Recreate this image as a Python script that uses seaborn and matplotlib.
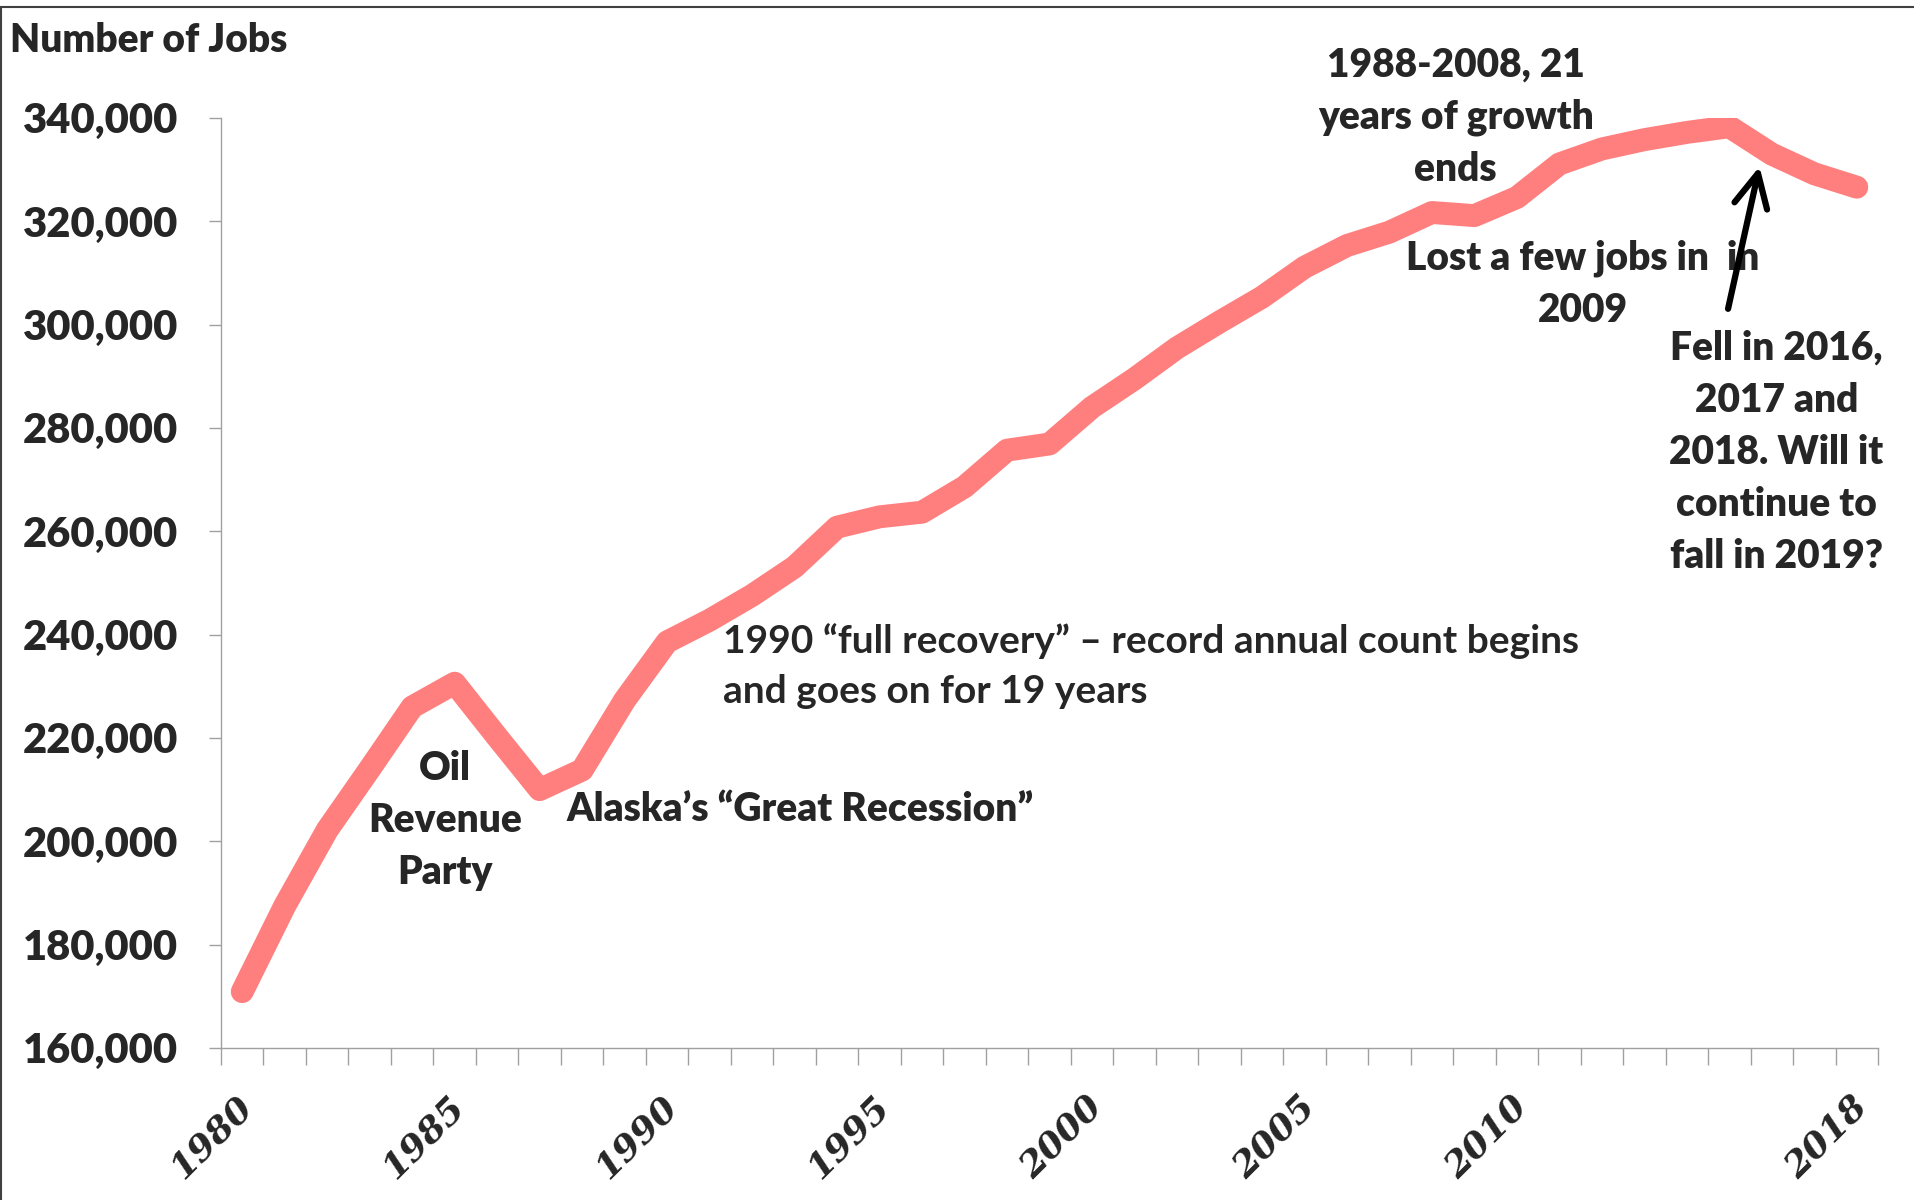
import numpy as np
import matplotlib
matplotlib.use("Agg")
import matplotlib.pyplot as plt
import seaborn as sns
from matplotlib import font_manager as fm
from matplotlib.ticker import FixedLocator
from matplotlib.patches import Rectangle
from matplotlib.transforms import ScaledTranslation

# data (Alaska wage & salary jobs)
years = list(range(1980, 2019))
jobs = [170900, 187500, 202200, 214000, 226000, 230600, 220200, 210000, 213800, 227300,
        238600, 242800, 247600, 253100, 260800, 262800, 263700, 268600, 275700, 276900,
        284000, 289500, 295500, 300500, 305300, 311100, 315300, 317900, 321700, 321100,
        324600, 331100, 334000, 335800, 337200, 338300, 333000, 329200, 326600]
label_years = [1980, 1985, 1990, 1995, 2000, 2005, 2010, 2018]
ytick_values = list(range(160000, 340001, 20000))


def has_bold(fam):
    try:
        path = fm.findfont(fm.FontProperties(family=fam, weight='bold'), fallback_to_default=False)
    except Exception:
        return False
    return 'bold' in path.lower()


# pick a humanist sans that really has a bold face
main_font = 'DejaVu Sans'
for fam in ['Lato', 'Roboto', 'Open Sans', 'Noto Sans', 'Liberation Sans']:
    if has_bold(fam):
        main_font = fam
        break

sns.set_style("white")
plt.rcParams['font.family'] = [main_font, 'DejaVu Sans']

line_color = '#FF7F7F'
axis_color = '#A0A0A0'
heavy = 'heavy'

fig = plt.figure(figsize=(19.15, 12), dpi=100)
ax = fig.add_axes([0.1154, 0.1267, 0.8653, 0.775])

sns.lineplot(x=years, y=jobs, ax=ax, color=line_color, linewidth=16.5,
             solid_capstyle='round', solid_joinstyle='round')

ax.set_xlim(1979.5, 2018.5)
ax.set_ylim(160000, 340000)

# y axis
ax.set_yticks(ytick_values)
ax.set_yticklabels([f"{v:,}" for v in ytick_values], fontsize=30, fontweight=heavy)
ax.tick_params(axis='y', left=True, length=9, width=1, color=axis_color, pad=22, direction='out')

# x axis: labels on some years, tick marks between every category
ax.set_xticks(label_years)
ax.set_xticklabels([str(y) for y in label_years], rotation=45, ha='right', va='top',
                   rotation_mode='anchor', fontsize=26, fontweight='bold',
                   fontstyle='italic', family='DejaVu Serif')
ax.xaxis.set_minor_locator(FixedLocator(np.arange(1979.5, 2019, 1.0)))
ax.tick_params(axis='x', which='major', bottom=True, length=0, pad=30)
ax.tick_params(axis='x', which='minor', bottom=True, length=12, width=1, color=axis_color, direction='out')
for lab in ax.get_xticklabels():
    lab.set_transform(lab.get_transform() + ScaledTranslation(-0.07, 0, fig.dpi_scale_trans))

for side in ['top', 'right']:
    ax.spines[side].set_visible(False)
for side in ['left', 'bottom']:
    ax.spines[side].set_color(axis_color)
    ax.spines[side].set_linewidth(1)
ax.grid(False)

# annotations
fs = 28
ls = 1.5
ax.text(1984.77, 204100, "Oil\nRevenue\nParty", ha='center', va='center',
        fontsize=fs, fontweight=heavy, linespacing=ls)
ax.text(1987.63, 206200, "Alaska\u2019s \u201cGreat Recession\u201d", ha='left', va='center',
        fontsize=fs, fontweight=heavy)
ax.text(1991.32, 233900, "1990 \u201cfull recovery\u201d \u2013 record annual count begins\nand goes on for 19 years",
        ha='left', va='center', fontsize=fs, fontweight='bold', linespacing=ls)
ax.text(2008.56, 340050, "1988-2008, 21\nyears of growth\nends", ha='center', va='center',
        fontsize=fs, fontweight=heavy, linespacing=ls)
ax.text(2011.55, 307850, "Lost a few jobs in  in\n2009", ha='center', va='center',
        fontsize=fs, fontweight=heavy, linespacing=ls)
ax.text(2016.11, 275270, "Fell in 2016,\n2017 and\n2018. Will it\ncontinue to\nfall in 2019?",
        ha='center', va='center', fontsize=fs, fontweight=heavy, linespacing=ls)

ax.annotate('', xy=(2015.71, 330600), xytext=(2014.97, 303060),
            arrowprops=dict(arrowstyle='->,head_length=1.2,head_width=0.6', lw=4.5,
                            color='black', mutation_scale=20, shrinkA=0, shrinkB=0))

fig.text(10 / 1915, 1 - 41 / 1200, "Number of Jobs", fontsize=28, fontweight=heavy, va='center')

# chart area border
fig.patches.append(Rectangle((0.0005, -0.5), 2, 1.49417, transform=fig.transFigure,
                             fill=False, edgecolor='#404040', lw=1.5))

plt.savefig("out.png", dpi=100)
